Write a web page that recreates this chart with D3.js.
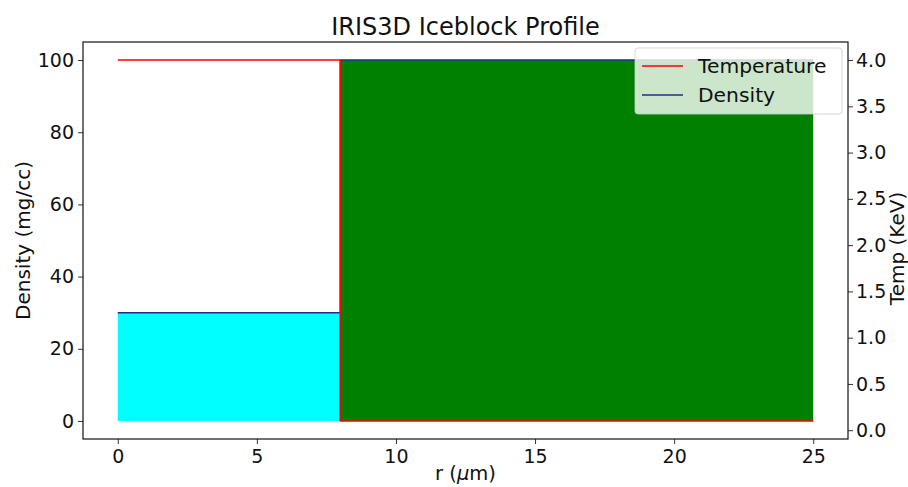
<!DOCTYPE html>
<html>
<head>
<meta charset="utf-8">
<script src="https://cdn.jsdelivr.net/npm/d3@7"></script>
<style>
  body { margin: 0; background: #fff; }
  svg { font-family: "DejaVu Sans", sans-serif; }
</style>
</head>
<body>
<div id="chart"></div>
<script>
// Profile data (r in um)
const radius = [0, 8, 8, 25];
const density = [30, 30, 100, 100];
const temperature = [4.0, 4.0, 0.1, 0.1];

// Filled regions under the density profile
const regionStart = [0, 8];
const regionEnd = [8, 25];
const regionDensity = [30, 100];

const xTicks = [0, 5, 10, 15, 20, 25];
const densityTicks = [0, 20, 40, 60, 80, 100];
const tempTicks = [0, 0.5, 1.0, 1.5, 2.0, 2.5, 3.0, 3.5, 4.0];
const seriesNames = ["Temperature", "Density"];

//Setup Dimensions
const width = 908;
const height = 487;
const plotLeft = 83, plotRight = 848, plotTop = 42, plotBottom = 439;
const regionColors = ["#00ffff", "#008000"];
const tempColor = "#ff0000";
const densColor = "#1f2d8a";

const svg = d3.select("#chart")
    .append("svg")
    .attr("width", width)
    .attr("height", height);

//Scales (matplotlib-style 5% margins)
const x = d3.scaleLinear().domain([-1.25, 26.25]).range([plotLeft, plotRight]);
const yD = d3.scaleLinear().domain([-5, 105]).range([plotBottom, plotTop]);
const yT = d3.scaleLinear().domain([-0.095, 4.195]).range([plotBottom, plotTop]);

//Fills
svg.append("g").selectAll("rect")
    .data(regionStart.map((s, i) => ({ x0: s, x1: regionEnd[i], v: regionDensity[i], c: regionColors[i] })))
    .enter().append("rect")
    .attr("x", d => x(d.x0))
    .attr("width", d => x(d.x1) - x(d.x0))
    .attr("y", d => yD(d.v))
    .attr("height", d => yD(0) - yD(d.v))
    .attr("fill", d => d.c);

const pts = radius.map((r, i) => ({ r, d: density[i], t: temperature[i] }));

//Density line
svg.append("path")
    .datum(pts)
    .attr("fill", "none")
    .attr("stroke", densColor)
    .attr("stroke-width", 1.5)
    .attr("d", d3.line().x(d => x(d.r)).y(d => yD(d.d)));

//Temperature line (twin axis, drawn on top)
svg.append("path")
    .datum(pts)
    .attr("fill", "none")
    .attr("stroke", tempColor)
    .attr("stroke-width", 1.5)
    .attr("d", d3.line().x(d => x(d.r)).y(d => yT(d.t)));

//Axes
const fontSize = "19px";
const gx = svg.append("g")
    .attr("transform", `translate(0,${plotBottom})`)
    .call(d3.axisBottom(x).tickValues(xTicks).tickSize(5).tickPadding(6).tickFormat(d3.format("d")));
const gyL = svg.append("g")
    .attr("transform", `translate(${plotLeft},0)`)
    .call(d3.axisLeft(yD).tickValues(densityTicks).tickSize(5).tickPadding(4).tickFormat(d3.format("d")));
const gyR = svg.append("g")
    .attr("transform", `translate(${plotRight},0)`)
    .call(d3.axisRight(yT).tickValues(tempTicks).tickSize(5).tickPadding(3).tickFormat(d3.format(".1f")));

[gx, gyL, gyR].forEach(g => {
    g.select(".domain").remove();
    g.selectAll(".tick line").attr("stroke", "#333").attr("stroke-width", 1);
    g.selectAll(".tick text").attr("fill", "#111").style("font-size", fontSize).style("font-family", "DejaVu Sans");
});

//Frame
svg.append("rect")
    .attr("x", plotLeft).attr("y", plotTop)
    .attr("width", plotRight - plotLeft).attr("height", plotBottom - plotTop)
    .attr("fill", "none").attr("stroke", "#111").attr("stroke-width", 1.2);

//Labels
svg.append("text")
    .attr("x", (plotLeft + plotRight) / 2).attr("y", 35)
    .attr("text-anchor", "middle")
    .style("font-size", "24px").attr("fill", "#111")
    .text("IRIS3D Iceblock Profile");
const xl = svg.append("text")
    .attr("x", (plotLeft + plotRight) / 2).attr("y", 480)
    .attr("text-anchor", "middle")
    .style("font-size", "19.5px").attr("fill", "#111");
xl.append("tspan").text("r (");
xl.append("tspan").style("font-style", "italic").text("\u03bc");
xl.append("tspan").text("m)");
svg.append("text")
    .attr("transform", `translate(23,${(plotTop + plotBottom) / 2}) rotate(-90)`)
    .attr("text-anchor", "middle")
    .attr("dominant-baseline", "central")
    .style("font-size", "20px").attr("fill", "#111")
    .text("Density (mg/cc)");
svg.append("text")
    .attr("transform", `translate(897,${(plotTop + plotBottom) / 2 + 8}) rotate(-90)`)
    .attr("text-anchor", "middle")
    .attr("dominant-baseline", "central")
    .style("font-size", "20px").attr("fill", "#111")
    .text("Temp (KeV)");

//Legend
const legend = svg.append("g");
legend.append("rect")
    .attr("x", 635).attr("y", 48)
    .attr("width", 207).attr("height", 66)
    .attr("rx", 3)
    .attr("fill", "#fff").attr("fill-opacity", 0.8)
    .attr("stroke", "#ccc").attr("stroke-opacity", 0.8);
const legendColors = [tempColor, densColor];
const li = legend.selectAll(".item")
    .data(seriesNames)
    .enter().append("g")
    .attr("class", "item")
    .attr("transform", (d, i) => `translate(0,${66 + i * 29})`);
li.append("line")
    .attr("x1", 642).attr("x2", 683)
    .attr("stroke", (d, i) => legendColors[i])
    .attr("stroke-width", 1.5);
li.append("text")
    .attr("x", 698).attr("y", 7)
    .style("font-size", "20.3px").attr("fill", "#111")
    .text(d => d);
</script>
</body>
</html>
